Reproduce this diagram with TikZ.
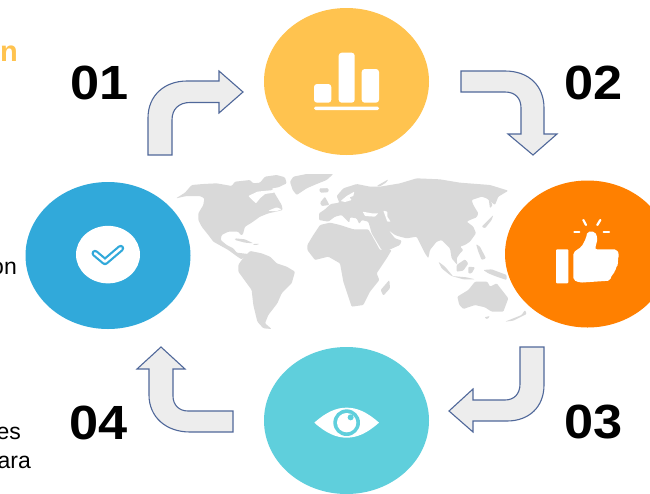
\documentclass[tikz,border=0pt]{standalone}
\usepackage{graphicx}
\usepackage{fontspec}
\setmainfont{Liberation Sans}
\usetikzlibrary{shapes.geometric}
\definecolor{cyellow}{HTML}{FFC34F}
\definecolor{corange}{HTML}{FF8000}
\definecolor{cteal}{HTML}{5FCFDC}
\definecolor{cblue}{HTML}{31A9DA}
\definecolor{cmap}{HTML}{D9D9D9}
\definecolor{carrow}{HTML}{EDEDED}
\definecolor{cedge}{HTML}{50689A}
\newcommand{\wide}[1]{\scalebox{1.09}[1]{#1}}
\tikzset{
  disc/.style={ellipse,inner sep=0pt,minimum width=165pt,minimum height=147pt},
  num/.style={font=\bfseries\fontsize{48}{48}\selectfont,text=black,anchor=base west,inner sep=0pt},
  frag/.style={font=\fontsize{23}{23}\selectfont,text=black,anchor=base east,inner sep=0pt},
  bentarrow/.style={fill=carrow,draw=cedge,line width=1.1pt,line join=miter},
  land/.style={fill=cmap,draw=none,rounded corners=1pt},
  sea/.style={fill=white,draw=none,rounded corners=0.6pt},
  strait/.style={draw=white,line width=0.9pt,line cap=round,fill=none},
  ico/.style={fill=white,draw=none}
}
\begin{document}
\begin{tikzpicture}[x=1pt,y=-1pt]
\clip (0,0) rectangle (650,493);
\fill[white] (0,0) rectangle (650,493);
% map: the Americas and Greenland
\begin{scope}[shift={(170,170)},x=0.3333pt,y=-0.3333pt]
\fill[land] (18,85)--(45,68)--(65,45)--(100,42)--(140,40)--(185,48)--(195,35)--(240,30)--(250,40)--(270,38)--(285,20)--(320,15)--(345,22)--(350,40)--(325,52)--(305,55)--(335,105)--(338,120)--(318,125)--(295,130)--(270,140)--(245,158)--(225,170)--(218,195)--(212,195)--(205,185)--(175,185)--(155,195)--(152,210)--(170,225)--(190,235)--(200,248)--(235,252)--(215,268)--(205,262)--(175,240)--(130,215)--(115,195)--(95,170)--(85,150)--(85,130)--(100,105)--(103,85)--(90,78)--(50,78)--cycle;
\fill[sea] (235,78)--(262,65)--(290,62)--(312,60)--(312,68)--(285,72)--(270,85)--(258,100)--(245,88)--cycle;
\fill[sea] (295,122)--(320,112)--(335,118)--(318,124)--cycle;
\draw[strait] (92,170)--(105,200);
\fill[land] (370,20)--(410,12)--(490,12)--(470,30)--(440,42)--(410,55)--(380,75)--(368,60)--(360,35)--cycle;
\fill[land] (195,205)--(225,208)--(250,220)--(225,218)--(195,210)--cycle;
\fill[land] (250,222)--(265,221)--(265,224)--(250,225)--cycle;
\fill[land] (448,57)--(475,55)--(475,67)--(450,67)--cycle;
\end{scope}
\begin{scope}[shift={(170,165)},x=0.3333pt,y=-0.3333pt]
\fill[land] (205,300)--(215,285)--(240,258)--(275,265)--(300,275)--(320,295)--(350,305)--(375,320)--(365,355)--(335,385)--(322,415)--(295,450)--(285,475)--(305,492)--(280,490)--(262,470)--(250,420)--(245,375)--(205,320)--cycle;
\end{scope}
% map: Eurasia and Africa
\begin{scope}[shift={(300,170)},x=0.3333pt,y=-0.3333pt]
\fill[land] (57,130)--(75,118)--(92,102)--(118,98)--(110,78)--(130,55)--(170,42)--(210,50)--(240,50)--(270,45)--(300,40)--(350,25)--(420,28)--(480,38)--(570,45)--(625,62)--(595,80)--(585,105)--(560,85)--(545,80)--(515,90)--(520,105)--(535,130)--(530,142)--(510,150)--(500,155)--(520,170)--(528,190)--(510,215)--(495,225)--(480,230)--(490,240)--(480,250)--(470,265)--(472,285)--(455,265)--(450,235)--(425,210)--(410,215)--(390,240)--(385,265)--(375,250)--(350,200)--(320,205)--(300,200)--(285,195)--(265,180)--(285,205)--(305,212)--(300,225)--(255,245)--(245,240)--(215,190)--(210,172)--(205,155)--(185,150)--(178,162)--(170,145)--(150,142)--(148,158)--(125,135)--(105,140)--(85,155)--(57,150)--cycle;
\fill[sea] (122,93)--(140,78)--(163,65)--(160,78)--(148,82)--(155,90)--(135,96)--cycle;
\fill[sea] (188,125)--(215,130)--(235,130)--(225,140)--(195,138)--cycle;
\fill[sea] (250,122)--(262,125)--(262,140)--(272,155)--(262,155)--cycle;
\fill[land] (22,225)--(40,195)--(60,165)--(90,158)--(120,165)--(160,178)--(205,178)--(215,195)--(240,240)--(275,240)--(260,265)--(230,310)--(238,330)--(210,365)--(190,405)--(155,410)--(130,335)--(120,280)--(85,260)--(45,270)--(22,240)--cycle;
\fill[land] (268,330)--(270,355)--(250,377)--(242,360)--cycle;
\fill[land] (58,55)--(85,55)--(85,65)--(62,68)--cycle;
\fill[land] (60,98)--(75,80)--(88,105)--(65,108)--cycle;
\fill[land] (230,48)--(265,28)--(258,38)--(238,50)--cycle;
\fill[land] (545,170)--(580,135)--(575,150)--(555,175)--cycle;
\fill[land] (565,80)--(578,105)--(570,115)--cycle;
\end{scope}
% map: South-East Asia and Oceania
\begin{scope}[shift={(400,230)},x=0.3333pt,y=-0.3333pt]
\fill[land] (115,95)--(135,110)--(160,140)--(150,135)--(125,115)--cycle;
\fill[land] (155,138)--(200,142)--(225,148)--(190,148)--cycle;
\fill[land] (170,105)--(195,88)--(205,100)--(190,122)--(170,125)--cycle;
\fill[land] (205,110)--(225,112)--(215,130)--(205,130)--cycle;
\fill[land] (228,42)--(240,50)--(258,85)--(245,90)--(235,65)--cycle;
\fill[land] (250,120)--(275,118)--(320,135)--(320,150)--(290,140)--(265,130)--cycle;
\fill[land] (172,200)--(205,180)--(225,155)--(262,155)--(270,170)--(290,160)--(325,205)--(310,245)--(275,245)--(255,232)--(225,225)--(190,237)--(178,225)--cycle;
\fill[land] (253,262)--(270,258)--(262,268)--cycle;
\fill[land] (315,275)--(365,255)--(375,240)--(380,252)--(340,272)--cycle;
\end{scope}
% discs
\node[disc,fill=cyellow] (stats) at (346.5,81.5) {};
\node[disc,fill=corange] (like) at (587.5,254) {};
\node[disc,fill=cteal] (eye) at (346.5,420.5) {};
\node[disc,fill=cblue] (check) at (108,255.5) {};
% numbers and cut-off texts
\node[num] (n1) at (70,99) {\wide{01}};
\node[num] (n2) at (564,99.5) {\wide{02}};
\node[num] (n3) at (564,438) {\wide{03}};
\node[num] (n4) at (69,439) {\wide{04}};
\node[anchor=base east,inner sep=0pt,text=cyellow,font=\bfseries\fontsize{29}{29}\selectfont] (t1) at (18,61.5) {n};
\node[frag] (t2) at (17,274) {on};
\node[frag] (t3) at (21,439) {es};
\node[frag] (t4) at (31,468) {ara};
% bent arrows
\draw[bentarrow] (148,155)--(148,118) .. controls (148,95) and (165,81) .. (187,81)--(219,81)--(219,71)--(243,92)--(219,113)--(219,102.5)--(190,102.5) .. controls (179,102.5) and (172,109) .. (172,120)--(172,155)--cycle;
\draw[bentarrow] (461,71)--(505,71) .. controls (529,71) and (544,86) .. (544,108)--(544,134)--(557,134)--(533,155)--(508,134)--(521,134)--(521,108) .. controls (521,98) and (515,92) .. (505,92)--(461,92)--cycle;
\draw[bentarrow] (544,347)--(544,385) .. controls (544,407) and (529,421) .. (507,421)--(473,421)--(473,432)--(449,411)--(473,389)--(473,400)--(505,400) .. controls (514,400) and (520,394) .. (520,384)--(520,347)--cycle;
\draw[bentarrow] (233,411)--(233,432)--(190,432) .. controls (166,432) and (149,417) .. (149,395)--(149,369)--(137,369)--(161,347)--(185,369)--(173,369)--(173,396) .. controls (173,405) and (179,411) .. (188,411)--cycle;
% bars icon
\fill[ico,rounded corners=3pt] (314,84) rectangle (331.3,102.7);
\fill[ico,rounded corners=3pt] (338.7,52.7) rectangle (354.7,102.7);
\fill[ico,rounded corners=3pt] (361.7,69) rectangle (379,102.7);
\fill[ico,rounded corners=1.5pt] (314,106.7) rectangle (379,110);
% thumb icon
\begin{scope}[shift={(500,180)},x=0.3333pt,y=-0.3333pt]
\fill[ico,rounded corners=1pt] (168,208) rectangle (205,310);
\fill[ico,rounded corners=2pt] (220,217)--(245,200)--(258,175)--(262,155)--(285,155)--(293,175)--(285,208)--(350,208)--(358,225)--(352,240)--(356,252)--(346,265)--(346,276)--(335,285)--(330,302)--(240,308)--(220,300)--cycle;
\draw[white,line width=2.2pt,line cap=round] (223,156)--(238,156);
\draw[white,line width=2.2pt,line cap=round] (311,156)--(327,156);
\draw[white,line width=2.2pt,line cap=round] (250,120)--(258,135);
\draw[white,line width=2.2pt,line cap=round] (301,120)--(292,135);
\end{scope}
% eye icon
\begin{scope}[shift={(260,340)},x=0.3333pt,y=-0.3333pt]
\fill[ico] (163,248) .. controls (200,215) and (230,203) .. (260,203) .. controls (290,203) and (320,215) .. (357,248) .. controls (320,281) and (290,293) .. (260,293) .. controls (230,293) and (200,281) .. (163,248)--cycle;
\fill[cteal] (260,248) circle[radius=40];
\fill[white] (260,248) circle[radius=29];
\fill[cteal] (272,232) circle[radius=9];
\end{scope}
% check icon
\node[ellipse,fill=white,inner sep=0pt,minimum width=64pt,minimum height=57.5pt] (mark) at (108,254.6) {};
\draw[cblue,line width=7pt,line cap=round,line join=round] (95,253.3)--(105,261.7)--(120.7,248.3);
\draw[white,line width=2.6pt,line cap=round,line join=round] (95,253.3)--(105,261.7)--(120.7,248.3);
\end{tikzpicture}
\end{document}
